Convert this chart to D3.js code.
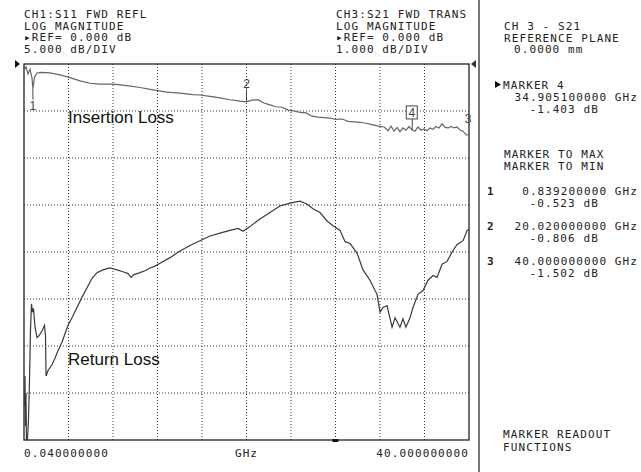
<!DOCTYPE html>
<html>
<head>
<meta charset="utf-8">
<script src="https://cdn.jsdelivr.net/npm/d3@7"></script>
<style>
  body { margin: 0; background: #fff; }
  .mono { font-family: "DejaVu Sans Mono", "Liberation Mono", monospace; font-size: 11px; letter-spacing: 1.1px; fill: #222; }
  .big { font-family: "Liberation Sans", Arial, sans-serif; font-size: 17px; fill: #111; }
  .mk { font-family: "Liberation Sans", Arial, sans-serif; font-size: 12px; fill: #444; }
</style>
</head>
<body>
<div id="chart"></div>
<script>
// sweep
var freqStart = 0.04, freqStop = 40;
var xTickLabels = ["0.040000000", "GHz", "40.000000000"];

// CH3 S21 insertion loss (GHz, dB)
var s21Freq = [0.04, 0.22, 0.40, 0.58, 0.76, 0.84, 0.98, 1.21, 1.48, 2.37, 3.27, 4.17, 5.07, 5.97, 6.86, 8.03,
  9.29, 10.46, 11.62, 12.88, 14.05, 15.22, 15.84, 16.74, 17.64, 18.54, 19.44, 20.02, 20.51, 21.05, 21.59, 22.13,
  22.67, 23.21, 23.75, 24.29, 24.83, 25.37, 25.90, 26.44, 26.98, 27.52, 28.06, 28.60, 29.14, 29.68, 30.22, 30.76,
  31.30, 31.84, 32.38, 32.73, 33.00, 33.27, 33.54, 33.80, 34.07, 34.34, 34.61, 34.91, 35.15, 35.42, 35.69, 35.96,
  36.23, 36.50, 36.77, 37.04, 37.31, 37.58, 37.85, 38.12, 38.39, 38.66, 38.93, 39.20, 39.47, 39.74, 40.00];
var s21Db = [-0.13, -0.06, -0.21, -0.11, -0.30, -0.523, -0.28, -0.19, -0.18, -0.19, -0.23, -0.29, -0.36, -0.41, -0.43, -0.43,
  -0.46, -0.50, -0.55, -0.60, -0.62, -0.65, -0.66, -0.69, -0.72, -0.76, -0.79, -0.806, -0.77, -0.76, -0.83, -0.87,
  -0.91, -0.92, -0.98, -1.00, -1.03, -1.04, -1.11, -1.13, -1.14, -1.15, -1.18, -1.17, -1.22, -1.23, -1.24, -1.26,
  -1.29, -1.32, -1.34, -1.42, -1.32, -1.43, -1.35, -1.44, -1.36, -1.41, -1.33, -1.403, -1.43, -1.34, -1.41, -1.38,
  -1.42, -1.36, -1.39, -1.33, -1.36, -1.27, -1.35, -1.36, -1.33, -1.36, -1.34, -1.41, -1.43, -1.51, -1.502];

// CH1 S11 return loss (GHz, dB)
var s11Freq = [0.08, 0.13, 0.17, 0.22, 0.26, 0.35, 0.44, 0.53, 0.62, 0.71, 0.80, 0.89, 1.03, 1.21, 1.39, 1.66,
  1.88, 1.97, 2.02, 2.20, 2.55, 2.82, 3.09, 3.45, 3.72, 3.99, 4.35, 4.80, 5.25, 5.70, 6.15, 6.60,
  7.13, 7.76, 8.39, 8.93, 9.38, 9.65, 9.92, 10.46, 10.91, 11.36, 11.80, 12.25, 13.15, 14.05, 14.95, 15.84,
  16.74, 17.64, 18.54, 19.26, 19.71, 20.33, 21.23, 22.13, 23.03, 23.93, 24.83, 25.45, 25.99, 26.62, 27.25, 27.79,
  28.42, 28.87, 29.32, 29.94, 30.48, 31.11, 31.56, 31.74, 32.01, 32.28, 32.64, 33.09, 33.36, 33.80, 34.07, 34.34,
  34.70, 34.97, 35.42, 35.87, 36.32, 36.77, 37.13, 37.58, 38.03, 38.48, 38.93, 39.47, 39.83, 40.00];
var s11Db = [-36.4, -33.2, -38.5, -35.0, -40.0, -40.0, -37.9, -34.0, -28.4, -25.5, -26.4, -26.0, -28.0, -29.1, -28.9, -28.4,
  -27.8, -28.9, -33.2, -32.6, -32.0, -31.3, -30.5, -29.6, -28.7, -27.8, -27.0, -25.9, -24.8, -23.8, -22.8, -22.2,
  -21.9, -21.7, -21.9, -22.1, -22.3, -22.7, -22.4, -22.2, -22.0, -21.7, -21.5, -21.2, -20.6, -19.9, -19.3, -18.8,
  -18.3, -18.0, -17.7, -17.5, -17.8, -17.3, -16.5, -15.8, -15.1, -14.8, -14.6, -14.9, -15.4, -15.8, -16.7, -17.2,
  -17.7, -18.9, -19.1, -20.1, -21.9, -23.0, -24.1, -24.5, -26.4, -25.9, -25.7, -28.0, -27.0, -28.0, -27.1, -28.0,
  -27.0, -25.9, -24.5, -24.1, -23.0, -22.5, -22.7, -21.3, -21.0, -20.0, -19.2, -18.8, -17.7, -17.6];

// markers on CH3
var markerIds = [1, 2, 3, 4];
var markerFreq = [0.8392, 20.02, 40.0, 34.9051];
var markerDb = [-0.523, -0.806, -1.502, -1.403];
var cursorFreq = 28.0;

// texts
var ch1Header = ["CH1:S11 FWD REFL", "LOG MAGNITUDE", "\u25B8REF= 0.000 dB", "5.000 dB/DIV"];
var ch3Header = ["CH3:S21 FWD TRANS", "LOG MAGNITUDE", "\u25B8REF= 0.000 dB", "1.000 dB/DIV"];
var panelTop = ["CH 3 - S21", "REFERENCE PLANE", "0.0000 mm"];
var markerMenu = ["MARKER TO MAX", "MARKER TO MIN"];
var softkeyLabel = ["MARKER READOUT", "FUNCTIONS"];

var W = 641, H = 472;
var plot = { left: 24, right: 469, top: 64, bottom: 440 };

var svg = d3.select("#chart").append("svg")
  .attr("width", W).attr("height", H);

var x = d3.scaleLinear().domain([freqStart, freqStop]).range([plot.left, plot.right]);
var y21 = d3.scaleLinear().domain([-8, 0]).range([plot.bottom, plot.top]);   // 1 dB/div
var y11 = d3.scaleLinear().domain([-40, 0]).range([plot.bottom, plot.top]);  // 5 dB/div

// grid, 10 x 8 divisions
var xDiv = d3.range(1, 10).map(function (i) { return freqStart + i * (freqStop - freqStart) / 10; });
var yDiv = d3.range(-7, 0);

svg.append("g").selectAll("line").data(xDiv).enter().append("line")
  .attr("x1", function (d) { return x(d); }).attr("x2", function (d) { return x(d); })
  .attr("y1", plot.top).attr("y2", plot.bottom)
  .attr("stroke", "#333").attr("stroke-width", 1).attr("stroke-dasharray", "1,2");
svg.append("g").selectAll("line").data(yDiv).enter().append("line")
  .attr("y1", function (d) { return y21(d); }).attr("y2", function (d) { return y21(d); })
  .attr("x1", plot.left).attr("x2", plot.right)
  .attr("stroke", "#333").attr("stroke-width", 1).attr("stroke-dasharray", "1,2");

// frame
svg.append("rect")
  .attr("x", plot.left).attr("y", plot.top)
  .attr("width", plot.right - plot.left).attr("height", plot.bottom - plot.top)
  .attr("fill", "none").attr("stroke", "#222").attr("stroke-width", 1.3);

// ref position triangles
svg.append("path").attr("d", "M15,60 L20,64 L15,68 Z").attr("fill", "#111");
svg.append("path").attr("d", "M476,60 L471,64 L476,68 Z").attr("fill", "#333");

// stimulus cursor on bottom edge
svg.append("rect")
  .attr("x", x(cursorFreq) - 3).attr("y", plot.bottom - 1)
  .attr("width", 6).attr("height", 3).attr("fill", "#111");

// traces
var line21 = d3.line().x(function (d) { return x(d[0]); }).y(function (d) { return y21(d[1]); });
var line11 = d3.line().x(function (d) { return x(d[0]); }).y(function (d) { return y11(d[1]); });

svg.append("path")
  .datum(d3.zip(s11Freq, s11Db))
  .attr("d", line11)
  .attr("fill", "none").attr("stroke", "#3a3a3a").attr("stroke-width", 1.2);

svg.append("path")
  .datum(d3.zip(s21Freq, s21Db))
  .attr("d", line21)
  .attr("fill", "none").attr("stroke", "#666").attr("stroke-width", 1.2);

// markers
var mk = svg.append("g");
markerIds.forEach(function (id, i) {
  var mx = x(markerFreq[i]), my = y21(markerDb[i]);
  if (id === 1) {
    mk.append("line").attr("x1", mx).attr("x2", mx).attr("y1", my).attr("y2", my + 11)
      .attr("stroke", "#444");
    mk.append("text").attr("class", "mk").attr("x", mx).attr("y", my + 21)
      .attr("text-anchor", "middle").text(id);
  } else if (id === 3) {
    mk.append("text").attr("class", "mk").attr("x", mx - 1).attr("y", my - 12)
      .attr("text-anchor", "middle").text(id);
  } else if (id === 4) {
    mk.append("line").attr("x1", mx).attr("x2", mx).attr("y1", my).attr("y2", my - 11)
      .attr("stroke", "#444");
    mk.append("rect").attr("x", mx - 6).attr("y", my - 24).attr("width", 11).attr("height", 13)
      .attr("fill", "#fff").attr("stroke", "#444");
    mk.append("text").attr("class", "mk").attr("x", mx - 0.5).attr("y", my - 13)
      .attr("text-anchor", "middle").text(id);
  } else {
    mk.append("line").attr("x1", mx).attr("x2", mx).attr("y1", my).attr("y2", my - 12)
      .attr("stroke", "#444");
    mk.append("text").attr("class", "mk").attr("x", mx).attr("y", my - 14)
      .attr("text-anchor", "middle").text(id);
  }
});

// trace names
svg.append("text").attr("class", "big").attr("x", 68).attr("y", 123).text("Insertion Loss");
svg.append("text").attr("class", "big").attr("x", 68).attr("y", 365).text("Return Loss");

// headers
var lineH = 11.7;
ch1Header.forEach(function (t, i) {
  svg.append("text").attr("class", "mono").attr("x", 24).attr("y", 18 + i * lineH).text(t);
});
ch3Header.forEach(function (t, i) {
  svg.append("text").attr("class", "mono").attr("x", 336).attr("y", 18 + i * lineH).text(t);
});

// x labels
svg.append("text").attr("class", "mono").attr("x", plot.left).attr("y", 457).text(xTickLabels[0]);
svg.append("text").attr("class", "mono").attr("x", x((freqStart + freqStop) / 2))
  .attr("y", 457).attr("text-anchor", "middle").text(xTickLabels[1]);
svg.append("text").attr("class", "mono").attr("x", plot.right).attr("y", 457)
  .attr("text-anchor", "end").text(xTickLabels[2]);

// right panel
svg.append("line").attr("x1", 479).attr("x2", 479).attr("y1", 0).attr("y2", H)
  .attr("stroke", "#777").attr("stroke-width", 2);

var panel = svg.append("g");
panel.append("text").attr("class", "mono").attr("x", 504).attr("y", 30).text(panelTop[0]);
panel.append("text").attr("class", "mono").attr("x", 504).attr("y", 30 + lineH).text(panelTop[1]);
panel.append("text").attr("class", "mono").attr("x", 514).attr("y", 30 + 2 * lineH).text(panelTop[2]);

// active marker readout
var active = markerIds.indexOf(4);
panel.append("path").attr("d", "M495,81 L501,84.5 L495,88 Z").attr("fill", "#111");
panel.append("text").attr("class", "mono").attr("x", 503).attr("y", 89).text("MARKER " + markerIds[active]);
panel.append("text").attr("class", "mono").attr("x", 638).attr("y", 101).attr("text-anchor", "end")
  .text(markerFreq[active].toFixed(9) + " GHz");
panel.append("text").attr("class", "mono").attr("x", 599).attr("y", 113).attr("text-anchor", "end")
  .text(markerDb[active].toFixed(3) + " dB");

markerMenu.forEach(function (t, i) {
  panel.append("text").attr("class", "mono").attr("x", 504).attr("y", 158 + i * 12).text(t);
});

[0, 1, 2].forEach(function (i) {
  var y0 = 195 + i * 35;
  panel.append("text").attr("class", "mono").attr("x", 487).attr("y", y0)
    .attr("font-weight", "bold").text(markerIds[i]);
  panel.append("text").attr("class", "mono").attr("x", 638).attr("y", y0).attr("text-anchor", "end")
    .text(markerFreq[i].toFixed(9) + " GHz");
  panel.append("text").attr("class", "mono").attr("x", 599).attr("y", y0 + 12).attr("text-anchor", "end")
    .text(markerDb[i].toFixed(3) + " dB");
});

softkeyLabel.forEach(function (t, i) {
  panel.append("text").attr("class", "mono").attr("x", 503).attr("y", 438 + i * 13).text(t);
});
</script>
</body>
</html>
